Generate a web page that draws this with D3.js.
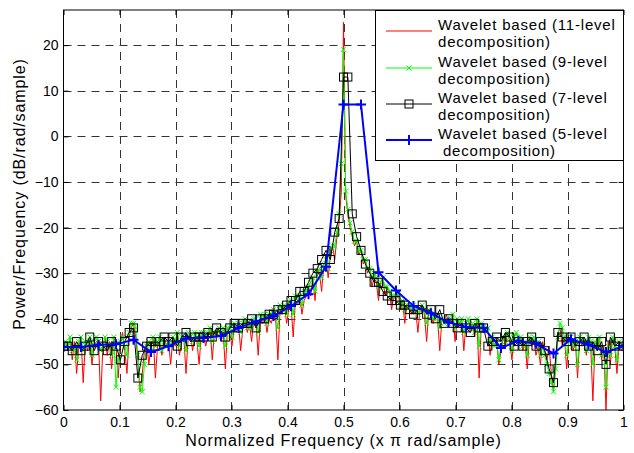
<!DOCTYPE html>
<html>
<head>
<meta charset="utf-8">
<script src="https://cdn.jsdelivr.net/npm/d3@7"></script>
<style>
  body { margin: 0; background: #fff; }
  text { font-family: "Liberation Sans", Arial, sans-serif; }
</style>
</head>
<body>
<script>
// Power spectrum estimates, dB/rad/sample.
// 11-level (red), 257 bins over 0..1 (x pi rad/sample)
const level11 = [
  -46,-45,-47,-44,-49,-45,-52,-46,-44,-54,-45,-47,-44,-50,-46,-45,
  -45,-58,-46,-44,-48,-45,-51,-44,-46,-53,-45,-43,-47,-52,-44,-42,
  -41,-44,-49,-56,-52,-47,-45,-50,-46,-44,-53,-46,-45,-48,-44,-46,
  -45,-50,-44,-46,-43,-48,-45,-44,-52,-44,-43,-47,-44,-45,-50,-43,
  -43,-46,-44,-42,-49,-43,-44,-42,-45,-43,-51,-42,-43,-46,-42,-43,
  -41,-47,-42,-40,-43,-41,-45,-40,-41,-48,-40,-41,-39,-43,-40,-41,
  -39,-40,-49,-38,-39,-37,-41,-38,-37,-44,-36,-37,-35,-39,-36,-35,
  -33,-35,-31,-36,-29,-30,-34,-28,-27,-31,-26,-24,-27,-22,-19,-12,
  25,
  -13,-17,-20,-22,-24,-23,-26,-25,-28,-27,-30,-29,-33,-31,-32,-36,
  -32,-31,-35,-33,-34,-38,-35,-36,-34,-38,-36,-41,-37,-37,-39,-38,
  -38,-43,-38,-37,-39,-45,-38,-39,-41,-39,-40,-47,-40,-41,-39,-41,
  -41,-39,-45,-40,-41,-40,-47,-41,-40,-42,-41,-44,-40,-53,-41,-42,
  -43,-42,-48,-44,-46,-45,-50,-47,-44,-46,-43,-45,-49,-44,-43,-45,
  -44,-47,-45,-51,-44,-46,-45,-48,-46,-50,-45,-47,-49,-46,-52,-56,
  -50,-43,-42,-46,-44,-51,-45,-44,-47,-45,-53,-44,-46,-45,-48,-44,
  -46,-58,-45,-47,-44,-49,-46,-60,-45,-50,-44,-46,-52,-45,-47,-46
];

// 9-level (green), 257 bins
const level9 = [
  -46,-45,-46,-44,-47,-46,-49,-45,-44,-47,-45,-46,-44,-48,-45,-44,
  -45,-47,-46,-44,-45,-46,-48,-44,-55,-49,-45,-44,-46,-48,-43,-41,
  -41,-42,-48,-55,-56,-50,-46,-45,-47,-44,-46,-45,-44,-47,-45,-46,
  -45,-46,-44,-45,-43,-46,-44,-44,-47,-43,-44,-45,-43,-44,-46,-43,
  -43,-44,-43,-42,-45,-43,-43,-42,-44,-42,-46,-42,-42,-44,-41,-42,
  -41,-43,-41,-40,-42,-41,-42,-40,-40,-43,-39,-40,-39,-41,-39,-39,
  -38,-39,-42,-37,-38,-37,-39,-37,-36,-39,-35,-36,-35,-37,-34,-34,
  -33,-32,-31,-34,-30,-29,-31,-28,-27,-29,-25,-24,-24,-21,-17,-6,
  19,
  -12,-16,-19,-21,-23,-23,-25,-25,-27,-27,-29,-29,-31,-30,-31,-33,
  -32,-31,-33,-33,-34,-35,-35,-35,-34,-37,-36,-38,-37,-37,-38,-37,
  -38,-39,-38,-37,-38,-41,-38,-39,-40,-39,-40,-42,-40,-41,-40,-41,
  -40,-39,-42,-40,-41,-40,-43,-41,-40,-42,-41,-43,-40,-46,-41,-42,
  -42,-42,-45,-44,-46,-45,-49,-46,-44,-45,-43,-44,-47,-44,-43,-45,
  -44,-46,-45,-48,-44,-45,-44,-46,-45,-48,-46,-48,-50,-52,-54,-56,
  -51,-44,-41,-42,-44,-48,-45,-44,-46,-45,-50,-44,-45,-45,-47,-44,
  -45,-50,-45,-46,-44,-48,-47,-55,-46,-48,-44,-46,-49,-45,-46,-46
];

// 7-level (black squares), 129 bins
const level7 = [
  -46,-46,-47,-45,-47,-46,-44,-47,-45,-46,-47,-45,-46,-49,-45,-43,
  -42,-53,-48,-46,-45,-46,-45,-44,-45,-44,-46,-44,-43,-45,-44,-44,
  -44,-43,-44,-42,-43,-44,-42,-41,-42,-41,-41,-40,-42,-40,-40,-39,
  -39,-38,-38,-37,-36,-36,-34,-34,-32,-30,-29,-27,-25,-27,-21,-18,
  13,13,-17,-22,-25,-28,-30,-32,-32,-34,-35,-36,-36,-37,-37,-38,
  -39,-38,-37,-39,-38,-40,-38,-41,-40,-41,-42,-41,-42,-43,-41,-42,
  -42,-46,-45,-44,-45,-43,-44,-46,-45,-46,-45,-44,-46,-45,-47,-51,
  -54,-43,-44,-45,-44,-46,-45,-44,-46,-45,-47,-45,-50,-44,-46,-45,
  -46
];

// 5-level (blue plus), 33 bins
const level5 = [
  -46.2,-46.2,-45.7,-45.6,-44.6,-47.3,-46,-44.3,
  -44.2,-43.8,-42,-40.6,-39.4,-37.2,-34.6,-28.6,
  7,7,-29.8,-33.8,-37.2,-38.8,-40.8,-41.8,
  -42,-46.4,-44.8,-45.5,-47.6,-44.5,-45.7,-47.3,
  -46
];

const xTicks = [0, 0.1, 0.2, 0.3, 0.4, 0.5, 0.6, 0.7, 0.8, 0.9, 1];
const xTickLabels = ["0", "0.1", "0.2", "0.3", "0.4", "0.5", "0.6", "0.7", "0.8", "0.9", "1"];
const yTicks = [-60, -50, -40, -30, -20, -10, 0, 10, 20];

const legendLabels = [
  ["Wavelet based (11-level", "decomposition)"],
  ["Wavelet based (9-level", "decomposition)"],
  ["Wavelet based (7-level", "decomposition)"],
  ["Wavelet based (5-level", " decomposition)"]
];

const W = 634, H = 453;
const pL = 63.5, pR = 623.5, pT = 10, pB = 410;

const x = d3.scaleLinear().domain([0, 1]).range([pL, pR]);
const y = d3.scaleLinear().domain([-60, 27.7]).range([pB, pT]);

const svg = d3.select("body").append("svg").attr("width", W).attr("height", H);

svg.append("defs").append("clipPath").attr("id", "plot")
  .append("rect").attr("x", pL).attr("y", pT)
  .attr("width", pR - pL).attr("height", pB - pT);

// dashed grid
const grid = svg.append("g").attr("stroke", "#333").attr("stroke-width", 1)
  .attr("stroke-dasharray", "8,6");
grid.selectAll(".gx").data(xTicks.slice(1, -1)).join("line")
  .attr("x1", d => Math.round(x(d)) + 0.5).attr("x2", d => Math.round(x(d)) + 0.5)
  .attr("y1", pT).attr("y2", pB);
grid.selectAll(".gy").data(yTicks.slice(1)).join("line")
  .attr("x1", pL).attr("x2", pR)
  .attr("y1", d => Math.round(y(d)) + 0.5).attr("y2", d => Math.round(y(d)) + 0.5);

// series
const pts = (vals) => vals.map((v, i) => [i / (vals.length - 1), v]);
const line = d3.line().x(d => x(d[0])).y(d => y(d[1]));
const plot = svg.append("g").attr("clip-path", "url(#plot)");

plot.append("path").attr("d", line(pts(level11)))
  .attr("fill", "none").attr("stroke", "#ff0000").attr("stroke-width", 1);

plot.append("path").attr("d", line(pts(level9)))
  .attr("fill", "none").attr("stroke", "#00ff00").attr("stroke-width", 1);
plot.append("g").selectAll("path").data(pts(level9)).join("path")
  .attr("d", d => {
    const cx = x(d[0]), cy = y(d[1]), s = 2.5;
    return `M${cx - s},${cy - s}L${cx + s},${cy + s}M${cx - s},${cy + s}L${cx + s},${cy - s}`;
  })
  .attr("stroke", "#00ff00").attr("stroke-width", 1);

plot.append("path").attr("d", line(pts(level7)))
  .attr("fill", "none").attr("stroke", "#000").attr("stroke-width", 1);
plot.append("g").selectAll("rect").data(pts(level7)).join("rect")
  .attr("x", d => x(d[0]) - 4).attr("y", d => y(d[1]) - 4)
  .attr("width", 8).attr("height", 8)
  .attr("fill", "none").attr("stroke", "#000").attr("stroke-width", 1);

plot.append("path").attr("d", line(pts(level5)))
  .attr("fill", "none").attr("stroke", "#0000ff").attr("stroke-width", 2);
plot.append("g").selectAll("path").data(pts(level5)).join("path")
  .attr("d", d => {
    const cx = x(d[0]), cy = y(d[1]), s = 5;
    return `M${cx - s},${cy}L${cx + s},${cy}M${cx},${cy - s}L${cx},${cy + s}`;
  })
  .attr("stroke", "#0000ff").attr("stroke-width", 2);

// axes (ticks point inward like MATLAB)
svg.append("g").attr("transform", `translate(0,${pB})`)
  .call(d3.axisBottom(x).tickValues(xTicks).tickFormat((d, i) => xTickLabels[i])
    .tickSize(-5).tickPadding(7));
svg.append("g").attr("transform", `translate(${pL},0)`)
  .call(d3.axisLeft(y).tickValues(yTicks).tickFormat(d3.format("d"))
    .tickSize(-5).tickPadding(5));
svg.append("g").attr("transform", `translate(0,${pT})`)
  .call(d3.axisTop(x).tickValues(xTicks).tickFormat("").tickSize(-5));
svg.append("g").attr("transform", `translate(${pR},0)`)
  .call(d3.axisRight(y).tickValues(yTicks).tickFormat("").tickSize(-5));
svg.selectAll(".domain").remove();
svg.selectAll(".tick text").attr("font-size", 14).attr("fill", "#000")
  .attr("font-family", "'Liberation Sans', Arial, sans-serif");

svg.append("rect").attr("x", pL).attr("y", pT)
  .attr("width", pR - pL).attr("height", pB - pT)
  .attr("fill", "none").attr("stroke", "#000").attr("stroke-width", 1);

// axis titles
svg.append("text").attr("x", (pL + pR) / 2).attr("y", 446)
  .attr("text-anchor", "middle").attr("font-size", 16).attr("letter-spacing", 0.9)
  .text("Normalized Frequency (x \u03c0 rad/sample)");
svg.append("text").attr("transform", "translate(25,194) rotate(-90)")
  .attr("text-anchor", "middle").attr("font-size", 16).attr("letter-spacing", 0.9)
  .text("Power/Frequency (dB/rad/sample)");

// legend
const lg = svg.append("g");
lg.append("rect").attr("x", 375.5).attr("y", 10.5).attr("width", 248).attr("height", 150)
  .attr("fill", "#fff").attr("stroke", "#000").attr("stroke-width", 1);
const legendColors = ["#ff0000", "#00ff00", "#000", "#0000ff"];
const rowY = [31, 68, 104, 140];
legendLabels.forEach((lab, i) => {
  const ly = rowY[i];
  lg.append("line").attr("x1", 386).attr("x2", 432).attr("y1", ly).attr("y2", ly)
    .attr("stroke", legendColors[i]).attr("stroke-width", i === 3 ? 2 : 1);
  if (i === 1) {
    lg.append("path").attr("d", "M406.5,65.5L411.5,70.5M406.5,70.5L411.5,65.5")
      .attr("stroke", "#00ff00");
  } else if (i === 2) {
    lg.append("rect").attr("x", 405).attr("y", ly - 4).attr("width", 8).attr("height", 8)
      .attr("fill", "none").attr("stroke", "#000");
  } else if (i === 3) {
    lg.append("path").attr("d", `M404,${ly}L414,${ly}M409,${ly - 5}L409,${ly + 5}`)
      .attr("stroke", "#0000ff").attr("stroke-width", 2);
  }
  lg.append("text").attr("x", 438).attr("y", ly - 1)
    .attr("font-size", 15).attr("letter-spacing", 0.8)
    .style("white-space", "pre")
    .text(lab[0]);
  lg.append("text").attr("x", 438).attr("y", ly + 16)
    .attr("font-size", 15).attr("letter-spacing", 0.8)
    .style("white-space", "pre")
    .text(lab[1]);
});
</script>
</body>
</html>
